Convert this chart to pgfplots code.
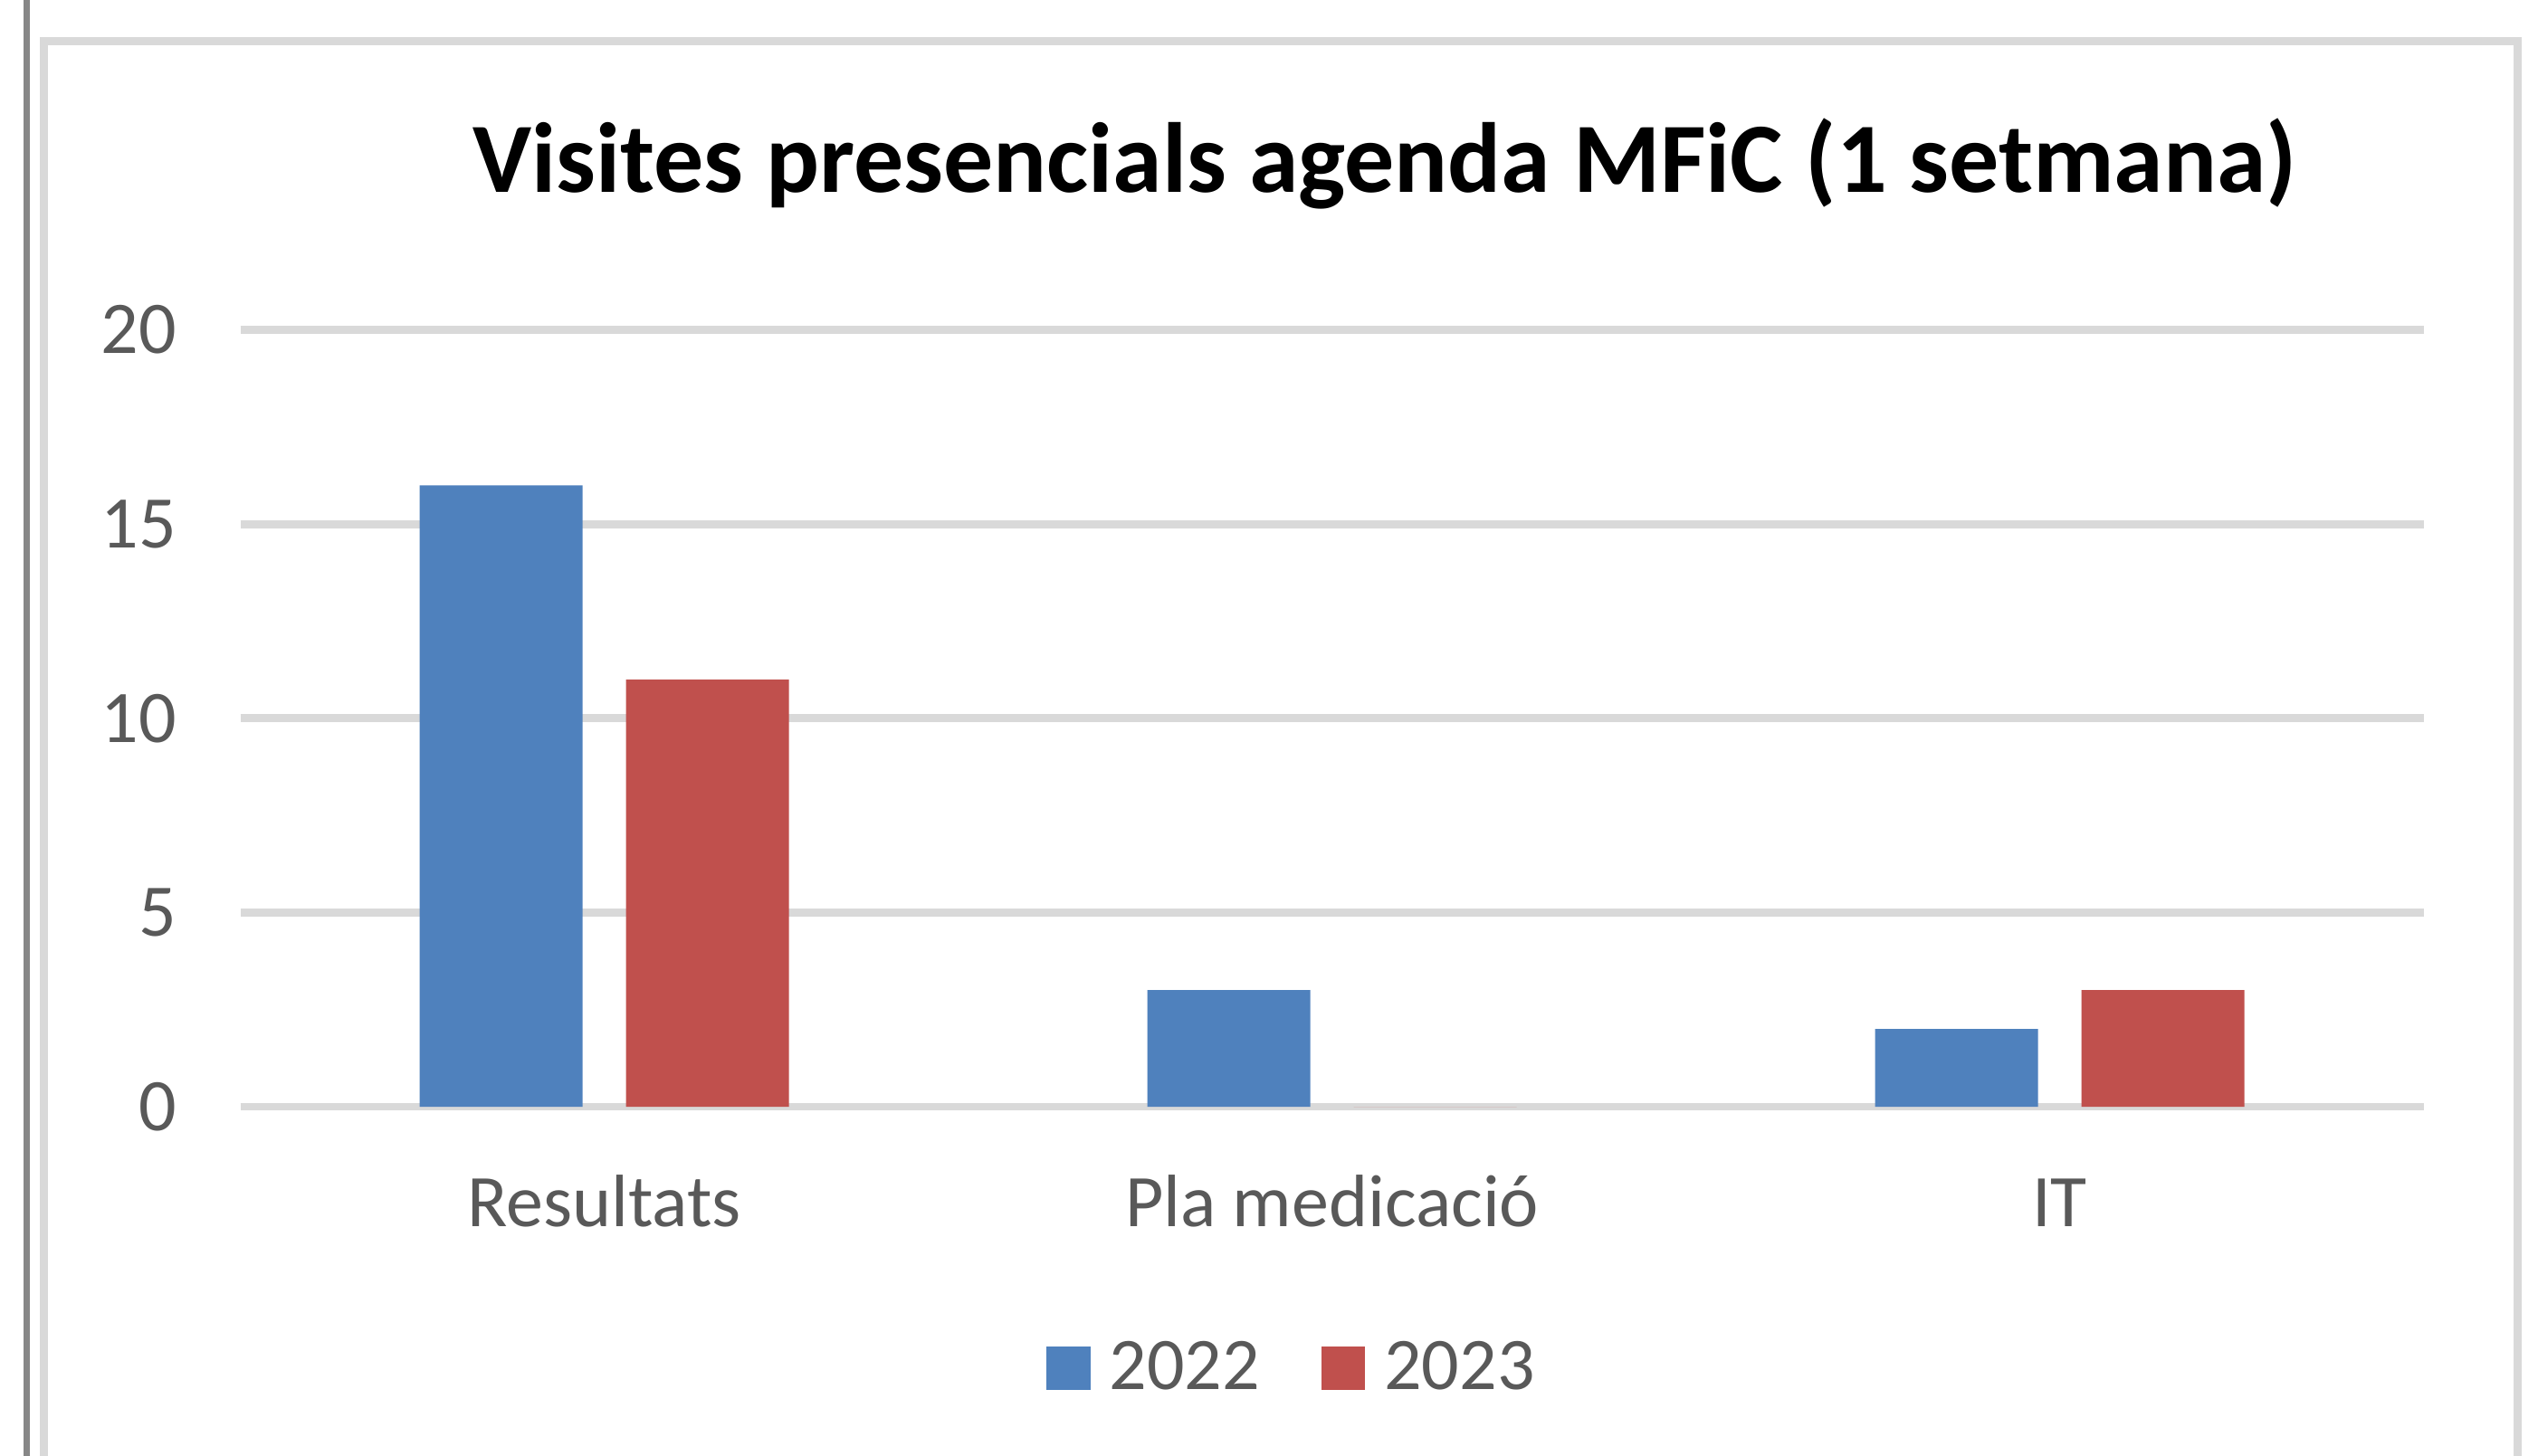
\documentclass[border=0pt]{standalone}
\usepackage{pgfplots}
\pgfplotsset{compat=1.18}
\usepackage{fontspec}
\setmainfont{Carlito}
\definecolor{blu}{HTML}{4F81BD}
\definecolor{rd}{HTML}{C0504D}
\definecolor{gridc}{HTML}{D9D9D9}
\definecolor{txt}{HTML}{595959}
\definecolor{darkline}{HTML}{878787}
\begin{document}
\begin{tikzpicture}
\useasboundingbox (0,0) rectangle (701pt,402pt);
\clip (0,0) rectangle (701pt,402pt);
\fill[white] (0,0) rectangle (701pt,402pt);
\draw[darkline, line width=1.75pt] (7.4pt,-10pt) -- (7.4pt,410pt);
\draw[gridc, line width=2.25pt] (12.1pt,-20pt) -- (12.1pt,390.6pt) -- (695.25pt,390.6pt) -- (695.25pt,-20pt);
\node[anchor=base, font=\fontsize{27.5pt}{33pt}\selectfont\bfseries, text=black, inner sep=0pt] at (382.5pt,348.75pt) {Visites presencials agenda MFiC (1 setmana)};
\begin{axis}[
  at={(66.4pt,96.25pt)}, anchor=south west,
  scale only axis, width=603pt, height=214.6pt,
  xmin=-0.5, xmax=2.5, ymin=0, ymax=20,
  axis line style={draw=none},
  major tick length=0pt,
  xtick={0,1,2},
  xticklabels={Resultats, Pla medicació, IT},
  ytick={0,5,10,15,20},
  ymajorgrids, grid style={gridc, line width=2.2pt},
  /pgf/number format/assume math mode=true,
  tick label style={text=txt, font=\fontsize{20.5pt}{24pt}\selectfont, inner sep=0pt},
  xticklabel style={anchor=base, yshift=-33pt},
  yticklabel style={anchor=east, xshift=-17.5pt},
  legend columns=2,
  legend style={draw=none, fill=none, at={(0.4827,-0.3367)}, anchor=center,
    font=\fontsize{20.5pt}{24pt}\selectfont, text=txt,
    /tikz/every even column/.append style={column sep=15pt},
    /tikz/every odd column/.append style={column sep=3.2pt},
    inner sep=0pt},
  legend cell align=left,
  legend image code/.code={\fill[#1] (0pt,-6.1pt) rectangle (12.15pt,6.1pt);},
  clip=false,
]
\addplot[ybar, fill=blu, draw=none, bar width=45pt, bar shift=-28.5pt] coordinates {(0,16) (1,3) (2,2)};
\addplot[ybar, fill=rd, draw=none, bar width=45pt, bar shift=28.5pt] coordinates {(0,11) (1,0) (2,3)};
\legend{2022, 2023}
\end{axis}
\end{tikzpicture}
\end{document}
